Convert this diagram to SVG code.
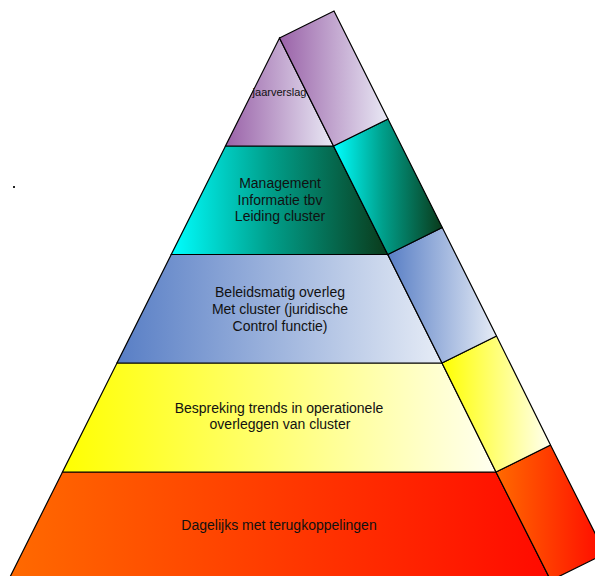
<svg xmlns="http://www.w3.org/2000/svg" width="595" height="576" viewBox="0 0 595 576">
  <style>
    .face { stroke: #000; stroke-width: 1.2; stroke-linejoin: miter; }
    .lbl { font-family: "Liberation Sans", Arial, sans-serif; font-size: 14px; fill: #111; text-anchor: middle; }
    .small { font-size: 11px; }
  </style>
  <defs>
    <linearGradient id="gPurple" x1="0" y1="0" x2="1" y2="0">
      <stop offset="0" stop-color="#9a62a8"/>
      <stop offset="1" stop-color="#e9e9f5"/>
    </linearGradient>
    <linearGradient id="gTeal" x1="0" y1="0" x2="1" y2="0">
      <stop offset="0" stop-color="#00ffff"/>
      <stop offset="0.45" stop-color="#00a08c"/>
      <stop offset="1" stop-color="#0a3a1a"/>
    </linearGradient>
    <linearGradient id="gBlue" x1="0" y1="0" x2="1" y2="0">
      <stop offset="0" stop-color="#587ec5"/>
      <stop offset="1" stop-color="#e6ecf6"/>
    </linearGradient>
    <linearGradient id="gYellow" x1="0" y1="0" x2="1" y2="0">
      <stop offset="0" stop-color="#ffff00"/>
      <stop offset="1" stop-color="#fffff0"/>
    </linearGradient>
    <linearGradient id="gRed" x1="0" y1="0" x2="1" y2="0">
      <stop offset="0" stop-color="#ff6a00"/>
      <stop offset="1" stop-color="#ff0a00"/>
    </linearGradient>
  </defs>

  <rect width="595" height="576" fill="#ffffff"/>

  <g id="layer-dagelijks">
    <polygon class="face" fill="url(#gRed)" points="62.5,472 496,472 550.75,580.5 8.25,580.5"/>
    <polygon class="face" fill="url(#gRed)" points="496,472 550.5,445 605.25,553.5 550.75,580.5"/>
    <text class="lbl" x="279" y="530">Dagelijks met terugkoppelingen</text>
  </g>

  <g id="layer-bespreking">
    <polygon class="face" fill="url(#gYellow)" points="117,363 442,363 496,472 62.5,472"/>
    <polygon class="face" fill="url(#gYellow)" points="442,363 496.5,336 550.5,445 496,472"/>
    <text class="lbl" x="279" y="413">Bespreking trends in operationele</text>
    <text class="lbl" x="280" y="429">overleggen van cluster</text>
  </g>

  <g id="layer-beleid">
    <polygon class="face" fill="url(#gBlue)" points="171.25,254.5 387.75,254.5 442,363 117,363"/>
    <polygon class="face" fill="url(#gBlue)" points="387.75,254.5 442.25,227.5 496.5,336 442,363"/>
    <text class="lbl" x="280" y="297">Beleidsmatig overleg</text>
    <text class="lbl" x="280" y="314">Met cluster (juridische</text>
    <text class="lbl" x="280" y="331">Control functie)</text>
  </g>

  <g id="layer-management">
    <polygon class="face" fill="url(#gTeal)" points="225.5,146 333.5,146 387.75,254.5 171.25,254.5"/>
    <polygon class="face" fill="url(#gTeal)" points="333.5,146 388,119 442.25,227.5 387.75,254.5"/>
    <text class="lbl" x="280" y="188">Management</text>
    <text class="lbl" x="280" y="204.5">Informatie tbv</text>
    <text class="lbl" x="280" y="221">Leiding cluster</text>
  </g>

  <g id="layer-jaarverslag">
    <polygon class="face" fill="url(#gPurple)" points="279.5,38 333.5,146 225.5,146"/>
    <polygon class="face" fill="url(#gPurple)" points="279.5,38 334,11 388,119 333.5,146"/>
    <text class="lbl small" x="279.5" y="96">jaarverslag</text>
  </g>

  <g id="dot">
    <rect x="13" y="186" width="2" height="2" fill="#222"/>
  </g>
</svg>
